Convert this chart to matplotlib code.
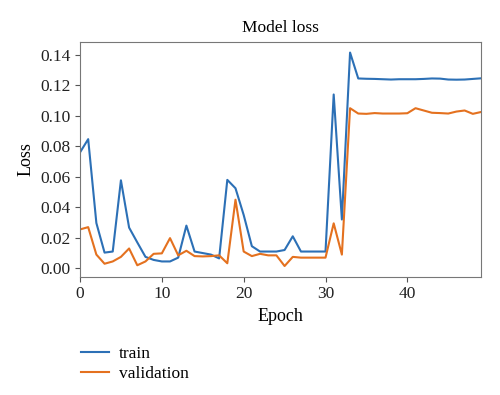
import matplotlib
matplotlib.use('Agg')
import matplotlib.pyplot as plt

epochs = list(range(50))
train = [0.076, 0.0847, 0.0297, 0.0103, 0.011, 0.0577, 0.0267, 0.017, 0.0075, 0.0055,
         0.0045, 0.0045, 0.007, 0.028, 0.011, 0.010, 0.009, 0.0065, 0.058, 0.0525,
         0.035, 0.0145, 0.011, 0.011, 0.011, 0.012, 0.021, 0.011, 0.011, 0.011,
         0.011, 0.114, 0.032, 0.1415, 0.1245, 0.1243, 0.1242, 0.124, 0.1238, 0.124,
         0.124, 0.124, 0.1242, 0.1245, 0.1244, 0.1238, 0.1237, 0.1238, 0.1242, 0.1246]
validation = [0.0255, 0.027, 0.009, 0.003, 0.0045, 0.0075, 0.013, 0.002, 0.0045, 0.0095,
              0.0098, 0.0198, 0.0085, 0.0115, 0.008, 0.0078, 0.008, 0.0085, 0.0033, 0.045,
              0.011, 0.008, 0.0095, 0.0085, 0.0085, 0.0015, 0.0075, 0.007, 0.007, 0.007,
              0.007, 0.0295, 0.009, 0.105, 0.1015, 0.1013, 0.1018, 0.1015, 0.1015, 0.1015,
              0.1017, 0.105, 0.1035, 0.102, 0.1018, 0.1015, 0.1028, 0.1035, 0.1013, 0.1025]

plt.rcParams['font.family'] = 'Liberation Serif'
plt.rcParams['font.size'] = 12.5

fig = plt.figure(figsize=(5, 3.95), dpi=100)
ax = fig.add_axes([0.16, 0.2995, 0.802, 0.5945])

ax.plot(epochs, train, color='#2c70b6', lw=1.5, label='train')
ax.plot(epochs, validation, color='#e4711f', lw=1.5, label='validation')
ax.set_xlim(0, 49)
ax.set_xticks([0, 10, 20, 30, 40])
ax.set_yticks([0.00, 0.02, 0.04, 0.06, 0.08, 0.10, 0.12, 0.14])
ax.set_yticklabels(['%.2f' % v for v in ax.get_yticks()])
ax.set_title('Model loss', fontsize=12.5, pad=7)
ax.set_xlabel('Epoch', fontsize=13)
ax.set_ylabel('Loss', fontsize=13)
for s in ax.spines.values():
    s.set_color('#777777')
ax.tick_params(colors='#222222', color='#555555', labelsize=12.5)

ax.legend(loc='upper left', bbox_to_anchor=(-0.037, -0.23), frameon=False,
          fontsize=12.5, handlelength=1.6, handletextpad=0.6, labelspacing=0.22)

fig.savefig('out.png', dpi=100)
